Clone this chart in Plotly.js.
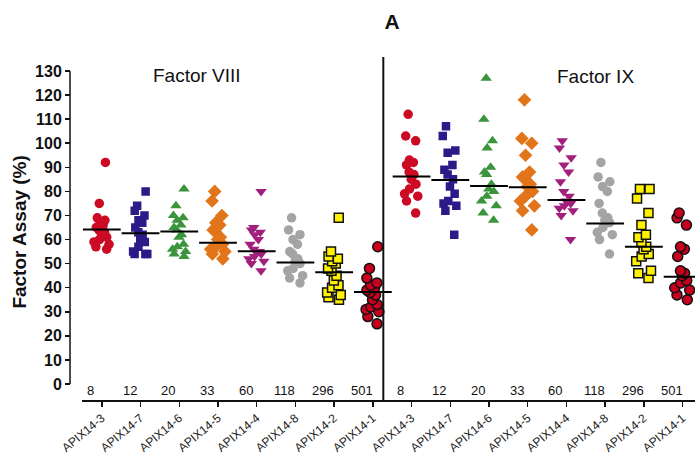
<!DOCTYPE html>
<html>
<head>
<meta charset="utf-8">
<script src="https://cdn.plot.ly/plotly-3.0.1.min.js"></script>
<style>html,body{margin:0;padding:0;background:#fff;}#chart{width:695px;height:457px;}</style>
</head>
<body>
<div id="chart"></div>
<script>
// ---- data ----
const categories = ['APIX14-3','APIX14-7','APIX14-6','APIX14-5','APIX14-4','APIX14-8','APIX14-2','APIX14-1'];
const counts = ['8','12','20','33','60','118','296','501'];
const panelLabels = ['Factor VIII','Factor IX'];

// Factor VIII (%)
const f8_apix14_3 = [92, 75, 69, 68, 67, 66, 65, 64, 63, 62, 61, 60, 59, 58, 57, 56];
const f8_apix14_7 = [80, 74, 72, 70, 68, 67, 65, 63, 62, 60, 59, 57, 55, 54, 54, 54];
const f8_apix14_6 = [81, 74, 70, 69, 68, 66, 65, 64, 62, 61, 58, 57, 56, 55, 54, 53];
const f8_apix14_5 = [80, 76, 70, 67, 66, 64, 63, 61, 60, 58, 57, 56, 55, 54, 52];
const f8_apix14_4 = [80, 65, 64, 63, 62, 60, 58, 56, 55, 55, 54, 53, 52, 51, 50, 47];
const f8_apix14_8 = [69, 64, 62, 60, 58, 55, 54, 52, 51, 50, 48, 47, 45, 44, 42];
const f8_apix14_2 = [69, 55, 53, 52, 51, 50, 48, 47, 45, 43, 41, 40, 38, 37, 36, 35];
const f8_apix14_1 = [57, 48, 44, 42, 41, 40, 39, 38, 37, 35, 33, 32, 31, 30, 28, 25];
const f8Means = [64.2, 62.6, 63.3, 58.7, 55.1, 50.5, 46.4, 38.2];

// Factor IX (%)
const f9_apix14_3 = [112, 103, 101, 93, 92, 91, 88, 87, 85, 83, 81, 79, 78, 76, 71];
const f9_apix14_7 = [107, 103, 97, 96, 91, 89, 87, 85, 82, 79, 76, 75, 74, 72, 62];
const f9_apix14_6 = [127, 110, 101, 98, 90, 88, 87, 83, 81, 80, 78, 76, 74, 71, 68];
const f9_apix14_5 = [118, 102, 100, 95, 88, 86, 85, 83, 82, 80, 78, 76, 74, 72, 64];
const f9_apix14_4 = [101, 98, 94, 91, 88, 84, 80, 78, 76, 75, 74, 73, 72, 70, 60];
const f9_apix14_8 = [92, 86, 84, 82, 80, 75, 71, 69, 68, 67, 65, 63, 62, 60, 54];
const f9_apix14_2 = [81, 81, 77, 71, 66, 62, 61, 59, 57, 56, 54, 53, 51, 47, 46, 44];
const f9_apix14_1 = [71, 69, 66, 57, 56, 53, 47, 46, 45, 43, 42, 40, 39, 37, 35];
const f9Means = [86.2, 84.7, 82.2, 81.7, 76.4, 66.7, 57.0, 44.6];

const yTicks = [0,10,20,30,40,50,60,70,80,90,100,110,120,130];

// ---- styles ----
const styles = [
  {symbol:'circle', color:'#cc0a24', size:9.5, lc:'#cc0a24', lw:0},
  {symbol:'square', color:'#2c1a88', size:8.5, lc:'#2c1a88', lw:0},
  {symbol:'triangle-up', color:'#3a953c', size:10, lc:'#3a953c', lw:0},
  {symbol:'diamond', color:'#e2741a', size:10.5, lc:'#e2741a', lw:0},
  {symbol:'triangle-down', color:'#a2207c', size:10, lc:'#a2207c', lw:0},
  {symbol:'circle', color:'#a4a4a4', size:9.5, lc:'#a4a4a4', lw:0},
  {symbol:'square', color:'#fff200', size:9, lc:'#111111', lw:1.5},
  {symbol:'circle', color:'#c8001e', size:10, lc:'#111111', lw:1.5}
];

const f8Series = [f8_apix14_3, f8_apix14_7, f8_apix14_6, f8_apix14_5, f8_apix14_4, f8_apix14_8, f8_apix14_2, f8_apix14_1];
const f9Series = [f9_apix14_3, f9_apix14_7, f9_apix14_6, f9_apix14_5, f9_apix14_4, f9_apix14_8, f9_apix14_2, f9_apix14_1];

const FONT = 'Liberation Sans, Arial, Helvetica, sans-serif';
const traces = [];
[f8Series, f9Series].forEach((series, p) => {
  series.forEach((vals, i) => {
    const s = styles[i];
    traces.push({
      type: 'box', y: vals, x0: p * 8 + i, name: categories[i],
      boxpoints: 'all', jitter: 0.8, pointpos: 0, width: 0.6,
      fillcolor: 'rgba(0,0,0,0)', line: {color: 'rgba(0,0,0,0)', width: 0},
      marker: {symbol: s.symbol, color: s.color, size: s.size, opacity: 1,
               line: {color: s.lc, width: s.lw}},
      hoverinfo: 'skip', showlegend: false
    });
  });
});
const allMeans = f8Means.concat(f9Means);
traces.push({
  type: 'scatter', mode: 'markers',
  x: allMeans.map((v, i) => i), y: allMeans,
  marker: {symbol: 'line-ew', size: 27, color: '#000', line: {color: '#000', width: 2}},
  hoverinfo: 'skip', showlegend: false
});

const positions = categories.concat(categories).map((c, i) => i);
const tickText = categories.concat(categories);

const annotations = [];
counts.concat(counts).forEach((c, i) => {
  annotations.push({xref:'x', yref:'y', x: i, y: -2.7, text: c, showarrow: false,
    xanchor:'center', yanchor:'middle', xshift: -11,
    font:{family: FONT, size: 13, color:'#111'}});
});
annotations.push({xref:'x', yref:'y', x: 2.45, y: 128.3, text: panelLabels[0], showarrow:false,
  xanchor:'center', yanchor:'middle', font:{family: FONT, size: 19, color:'#111'}});
annotations.push({xref:'x', yref:'y', x: 12.74, y: 127.9, text: panelLabels[1], showarrow:false,
  xanchor:'center', yanchor:'middle', font:{family: FONT, size: 19, color:'#111'}});
annotations.push({xref:'paper', yref:'paper', x: -0.08, y: 0.488, text: '<b>Factor Assay (%)</b>',
  textangle: -90, showarrow:false, xanchor:'center', yanchor:'middle',
  font:{family: FONT, size: 19, color:'#111'}});

const layout = {
  width: 695, height: 457,
  margin: {l: 70, r: 0, t: 57, b: 56.5, pad: 0},
  paper_bgcolor: '#fff', plot_bgcolor: '#fff',
  title: {text: '<b>A</b>', x: 0.564, xref: 'container', xanchor: 'center',
          y: 0.9525, yref: 'container', yanchor: 'middle',
          font: {family: FONT, size: 21, color: '#111'}},
  boxmode: 'overlay',
  xaxis: {domain: [0.0187, 1], range: [-0.52, 15.32], showgrid: false, zeroline: false,
          showline: true, linecolor: '#111', linewidth: 1.5,
          tickmode: 'array', tickvals: positions, ticktext: tickText,
          ticks: 'outside', ticklen: 5, tickwidth: 1.5, tickcolor: '#111',
          tickangle: -40, tickfont: {family: FONT, size: 12, color: '#222'}},
  yaxis: {anchor: 'free', position: 0, range: [-6.63, 135.8], showgrid: false, zeroline: false,
          showline: false, tickmode: 'array', tickvals: yTicks,
          ticks: 'outside', ticklen: 5, tickwidth: 1.5, tickcolor: '#111',
          tickfont: {family: FONT, size: 16, color: '#111', weight: 'bold'}},
  shapes: [
    {type:'line', xref:'paper', yref:'y', x0: 0, x1: 0, y0: 0, y1: 130, line:{color:'#111', width:1.5}},
    {type:'line', xref:'x', yref:'paper', x0: 7.27, x1: 7.27, y0: 0, y1: 1, line:{color:'#111', width:2}}
  ],
  annotations: annotations
};

Plotly.newPlot('chart', traces, layout, {staticPlot: true, displayModeBar: false});
</script>
</body>
</html>
